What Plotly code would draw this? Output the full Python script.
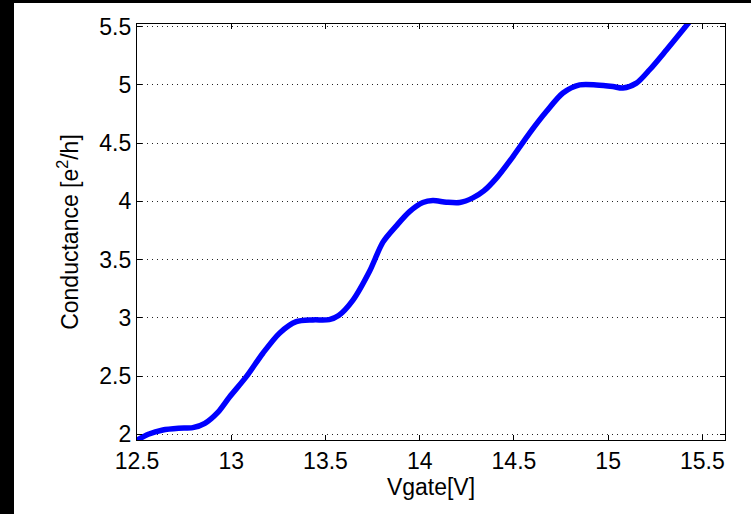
import plotly.graph_objects as go

# Gate voltage sweep [V] and measured conductance [e^2/h]
vgate = [12.500, 12.560, 12.637, 12.720, 12.796, 12.860, 12.930, 12.991, 13.080, 13.168,
         13.256, 13.345, 13.433, 13.520, 13.570, 13.645, 13.734, 13.805, 13.876, 13.946,
         14.017, 14.070, 14.141, 14.212, 14.282, 14.340, 14.407, 14.495, 14.583, 14.672,
         14.760, 14.849, 14.937, 15.025, 15.078, 15.150, 15.220, 15.309, 15.397, 15.440]
conductance = [1.950, 2.000, 2.037, 2.052, 2.057, 2.094, 2.190, 2.320, 2.495, 2.696,
               2.868, 2.967, 2.982, 2.985, 3.020, 3.150, 3.400, 3.650, 3.790, 3.912,
               3.990, 4.007, 3.993, 3.990, 4.030, 4.090, 4.200, 4.385, 4.586, 4.771,
               4.930, 5.000, 5.000, 4.986, 4.973, 5.015, 5.130, 5.300, 5.473, 5.560]

x_ticks = [12.5, 13, 13.5, 14, 14.5, 15, 15.5]
y_ticks = [2, 2.5, 3, 3.5, 4, 4.5, 5, 5.5]

fig = go.Figure()
fig.add_trace(go.Scatter(
    x=vgate, y=conductance, mode="lines",
    line=dict(color="#0000ff", width=5.5, shape="spline", smoothing=0.8),
    showlegend=False,
))

font = dict(family="Liberation Sans, Arial, Helvetica, sans-serif", size=23, color="black")

axis_common = dict(
    showline=True, linecolor="black", linewidth=1.2, mirror="allticks",
    ticks="inside", ticklen=5, tickcolor="black", tickwidth=1,
    zeroline=False, tickfont=font,
)

fig.update_xaxes(
    range=[12.5, 15.62], tickvals=x_ticks, ticktext=[f"{t:g}" for t in x_ticks],
    showgrid=False,
    title=dict(text="Vgate[V]", font=font, standoff=4), **axis_common,
)
fig.update_yaxes(
    range=[1.951, 5.523], tickvals=y_ticks, ticktext=[f"{t:g}" for t in y_ticks],
    showgrid=True, gridcolor="#222222", gridwidth=1, griddash="1px,4px",
    title=dict(text="Conductance [e<sup>2</sup>/h]", font=font, standoff=14), **axis_common,
)

# Dark border strips along the left and top edges of the figure
W, H = 751, 514
L, R, T, B = 137, 26, 24, 74
pw, ph = W - L - R, H - T - B


def px_x(p):
    return (p - L) / pw


def px_y(p):
    return 1 - (p - T) / ph


fig.add_shape(type="rect", xref="paper", yref="paper",
              x0=px_x(0), x1=px_x(14), y0=px_y(H), y1=px_y(0),
              fillcolor="black", line_width=0, layer="above")
fig.add_shape(type="rect", xref="paper", yref="paper",
              x0=px_x(0), x1=px_x(W), y0=px_y(3), y1=px_y(0),
              fillcolor="black", line_width=0, layer="above")

fig.update_layout(
    width=W, height=H,
    margin=dict(l=L, r=R, t=T, b=B, autoexpand=False),
    paper_bgcolor="white", plot_bgcolor="white",
    font=font,
)

fig.write_html("out.html")
